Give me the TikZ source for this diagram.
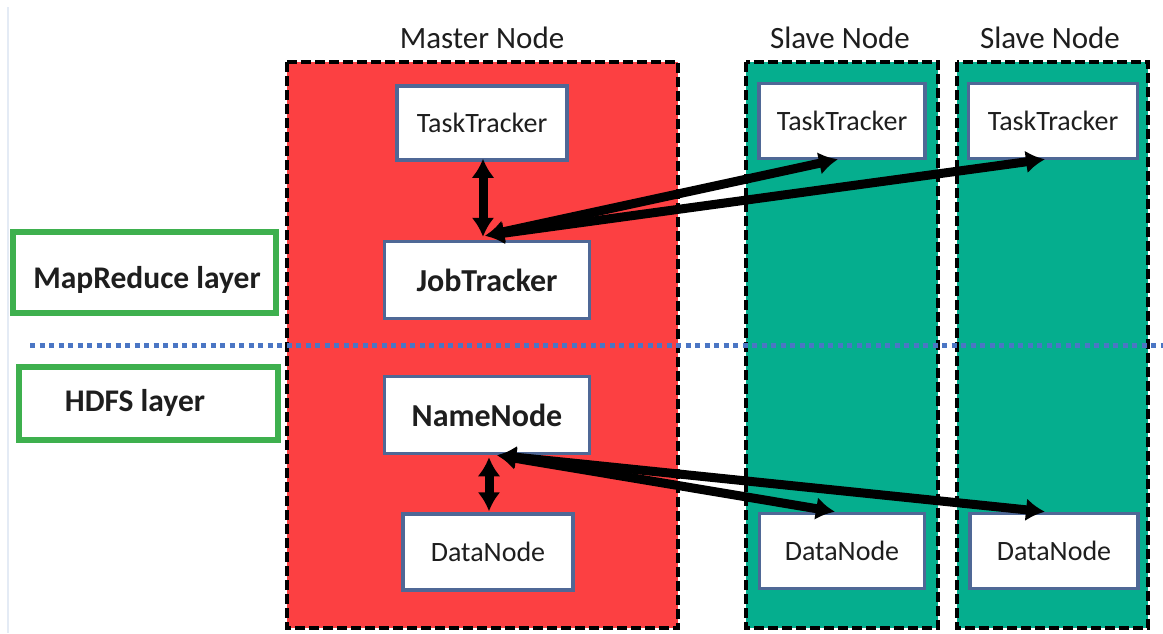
\documentclass[tikz,border=0pt]{standalone}
\usepackage{fontspec}
\setmainfont{Carlito}
\usetikzlibrary{arrows.meta,calc}
\definecolor{masterred}{RGB}{252,64,66}
\definecolor{slavegreen}{RGB}{5,174,142}
\definecolor{boxblue}{RGB}{79,104,150}
\definecolor{laygreen}{RGB}{62,176,78}
\definecolor{dotblue}{RGB}{75,118,196}
\definecolor{txt}{RGB}{30,30,30}
\definecolor{faint}{RGB}{228,235,245}
\begin{document}
\begin{tikzpicture}[x=1pt,y=-1pt,
  lane/.style={draw=black, line width=3.5pt, dash pattern=on 10pt off 4pt},
  comp/.style={draw=boxblue, fill=white, line width=3.5pt, inner sep=0pt, text=txt,
    font=\fontsize{28}{34}\selectfont},
  bcomp/.style={comp, font=\fontsize{32}{38}\selectfont\bfseries},
  layerbox/.style={draw=laygreen, line width=6pt, fill=white, inner sep=0pt},
  layertext/.style={text=txt, inner sep=0pt, font=\fontsize{31.5}{38}\selectfont\bfseries},
  title/.style={text=txt, inner sep=0pt, font=\fontsize{31}{37}\selectfont},
  link/.style={line width=9pt, {Latex[length=19pt,width=23pt]}-{Latex[length=19pt,width=23pt]}},
]
\useasboundingbox[fill=white] (0,0) rectangle (1163,633);
\draw[faint, line width=1.5pt] (8,7) -- (8,633);

% lanes
\draw[lane, fill=masterred] (287,62) rectangle (678,628);
\draw[lane, fill=slavegreen] (746,62) rectangle (938,628);
\draw[lane, fill=slavegreen] (957,62) rectangle (1148,628);

% titles
\node[title] (tmaster) at (482,38) {Master Node};
\node[title] (tslave1) at (840,38) {Slave Node};
\node[title] (tslave2) at (1050,38) {Slave Node};

% layer separator
\draw[dotblue, line width=5pt, dash pattern=on 5pt off 4.5pt] (30,345) -- (1163,345);

% layer labels
\node[layerbox, minimum width=263pt, minimum height=81pt] (mrbox) at (144.5,272.5) {};
\node[layertext] (mrtext) at (147,280) {MapReduce layer};
\node[layerbox, minimum width=259pt, minimum height=73pt] (hdbox) at (148.5,403.5) {};
\node[layertext] (hdtext) at (135,403) {HDFS layer};

% components
\node[comp, minimum width=170pt, minimum height=74pt] (ttm) at (482,123) {TaskTracker};
\node[bcomp, minimum width=205pt, minimum height=77pt] (jt) at (487,280) {JobTracker};
\node[bcomp, minimum width=205pt, minimum height=77pt] (nn) at (487,415) {NameNode};
\node[comp, minimum width=170pt, minimum height=76pt] (dnm) at (488,552) {DataNode};
\node[comp, minimum width=166pt, minimum height=75pt] (tt1) at (842,121) {TaskTracker};
\node[comp, minimum width=169pt, minimum height=75pt] (tt2) at (1053,121) {TaskTracker};
\node[comp, minimum width=165pt, minimum height=75pt] (dn1) at (842,551) {DataNode};
\node[comp, minimum width=168pt, minimum height=75pt] (dn2) at (1054,551) {DataNode};

% connectors
\draw[link] ($(ttm.south)+(1,-3)$) -- ($(ttm.south |- jt.north)+(1,-3)$);
\draw[link] ($(jt.north)+(-2,-4)$) -- ($(tt1.south)+(-4,-1)$);
\draw[link] ($(jt.north)+(-2,-4)$) -- ($(tt2.south)+(-8,-1)$);
\draw[link] ($(nn.south)+(2,2)$) -- ($(nn.south |- dnm.north)+(2,-1)$);
\draw[link] ($(nn.south)+(10,0)$) -- ($(dn1.north)+(-7,0)$);
\draw[link] ($(nn.south)+(10,0)$) -- ($(dn2.north)+(-9,0)$);
\end{tikzpicture}
\end{document}
